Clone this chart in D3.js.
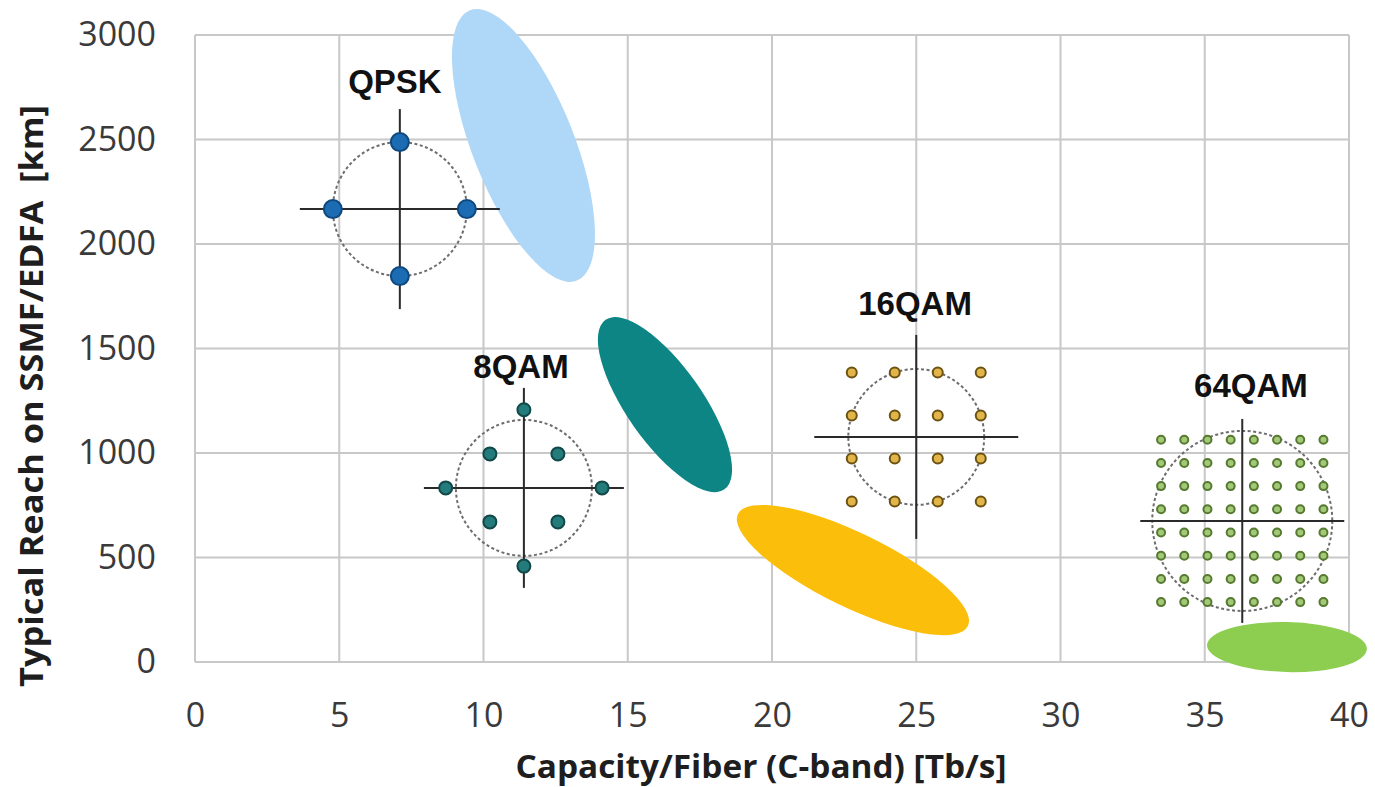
<!DOCTYPE html>
<html><head><meta charset="utf-8">
<script src="https://cdn.jsdelivr.net/npm/d3@7"></script>
<style>body{margin:0;background:#fff}</style>
</head><body><svg id="c" width="1375" height="787"></svg>
<script>
// ---------- data ----------
const xTicks=[0,5,10,15,20,25,30,35,40];
const yTicks=[0,500,1000,1500,2000,2500,3000];
const xTitle="Capacity/Fiber (C-band) [Tb/s]";
const yTitle="Typical Reach on SSMF/EDFA\u00a0\u00a0[km]";

const regionNames=["QPSK","8QAM","16QAM","64QAM"];
// major-axis end points of each shaded region (capacity Tb/s, reach km)
const regionTipX1=[9.53,14.23,18.82,35.08];
const regionTipY1=[3118,1637,708,81];
const regionTipX2=[13.24,18.35,26.79,40.62];
const regionTipY2=[1825,826,172,62];

// constellation diagram centres and labels (capacity, reach)
const constCenterX=[7.1,11.4,25.0,36.3];
const constCenterY=[2167,833,1077,675];
const labelX=[6.93,11.3,24.96,36.6];
const labelY=[2722,1359,1660,1268];

// constellation points (I/Q units)
const qpskI=[0,1,0,-1], qpskQ=[1,0,-1,0];
const qam8I=[0,2.3,0,-2.3,1,1,-1,-1], qam8Q=[2.3,0,-2.3,0,1,-1,1,-1];
const qam16Levels=[-3,-1,1,3];
const qam64Levels=[-7,-5,-3,-1,1,3,5,7];
const refRadius=[1,2,3.16,7.76];

// ---------- style ----------
const M={left:195,right:1349,top:35,bottom:662};
const regionFill=["#afd7f7","#0e8585","#fbbf0b","#8dcd50"];
const regionMinorPx=[51,38,37,25];
const unitPx=[67,34,21.5,11.6];
const crossPx=[100,100,102,102];
const dotR=[9,6.5,5,4];
const dotFill=["#1c6cb4","#237b7b","#e2b54a","#a3c878"];
const dotStroke=["#10497e","#124848","#6b5212","#557a30"];

const svg=d3.select("#c");
const x=d3.scaleLinear().domain([0,40]).range([M.left,M.right]);
const y=d3.scaleLinear().domain([0,3000]).range([M.bottom,M.top]);

// grid
const g=svg.append("g");
g.selectAll("line.v").data(xTicks).join("line")
 .attr("x1",d=>x(d)).attr("x2",d=>x(d)).attr("y1",M.top).attr("y2",M.bottom)
 .attr("stroke","#c8c8c8").attr("stroke-width",2);
g.selectAll("line.h").data(yTicks).join("line")
 .attr("x1",M.left).attr("x2",M.right).attr("y1",d=>y(d)).attr("y2",d=>y(d))
 .attr("stroke","#c8c8c8").attr("stroke-width",2);

// axes labels via d3 axes
const xAxis=svg.append("g").attr("transform",`translate(0,${M.bottom})`)
 .call(d3.axisBottom(x).tickValues(xTicks).tickSize(0).tickPadding(40).tickFormat(d3.format("d")));
const yAxis=svg.append("g").attr("transform",`translate(${M.left},0)`)
 .call(d3.axisLeft(y).tickValues(yTicks).tickSize(0).tickPadding(39).tickFormat(d3.format("d")));
[xAxis,yAxis].forEach(a=>{a.select(".domain").remove();
 a.selectAll("text").attr("font-family","'Open Sans',sans-serif").attr("font-size",34).attr("fill","#3a3a3a");});
xAxis.selectAll("text").attr("dy","0").attr("y",65);

// titles
svg.append("text").attr("x",761).attr("y",778).attr("text-anchor","middle")
 .attr("font-family","'Open Sans',sans-serif").attr("font-weight","bold").attr("font-size",33)
 .attr("textLength",491).attr("lengthAdjust","spacingAndGlyphs").attr("fill","#1e1e1e").text(xTitle);
svg.append("text").attr("transform","translate(43,396) rotate(-90)").attr("text-anchor","middle")
 .attr("font-family","'Open Sans',sans-serif").attr("font-weight","bold").attr("font-size",33)
 .attr("textLength",582).attr("lengthAdjust","spacingAndGlyphs").attr("fill","#1e1e1e").text(yTitle);

// regions (ellipses)
regionNames.forEach((n,i)=>{
  const x1=x(regionTipX1[i]),y1=y(regionTipY1[i]),x2=x(regionTipX2[i]),y2=y(regionTipY2[i]);
  const cx=(x1+x2)/2,cy=(y1+y2)/2,a=Math.hypot(x2-x1,y2-y1)/2,ang=Math.atan2(y2-y1,x2-x1)*180/Math.PI;
  svg.append("ellipse").attr("cx",0).attr("cy",0).attr("rx",a).attr("ry",regionMinorPx[i])
   .attr("transform",`translate(${cx},${cy}) rotate(${ang})`).attr("fill",regionFill[i]);
});

// constellations
const pts=[
  qpskI.map((v,k)=>[v,qpskQ[k]]),
  qam8I.map((v,k)=>[v,qam8Q[k]]),
  d3.cross(qam16Levels,qam16Levels),
  d3.cross(qam64Levels,qam64Levels)
];
regionNames.forEach((n,i)=>{
  const cx=x(constCenterX[i]),cy=y(constCenterY[i]);
  const s=d3.scaleLinear().domain([0,1]).range([0,unitPx[i]]);
  const cg=svg.append("g").attr("transform",`translate(${cx},${cy})`);
  cg.append("circle").attr("r",s(refRadius[i])).attr("fill","none")
   .attr("stroke","#6d6d6d").attr("stroke-width",2).attr("stroke-dasharray","3,2.5");
  cg.append("line").attr("x1",-crossPx[i]).attr("x2",crossPx[i]).attr("stroke","#2a2a2a").attr("stroke-width",2);
  cg.append("line").attr("y1",-crossPx[i]).attr("y2",crossPx[i]).attr("stroke","#2a2a2a").attr("stroke-width",2);
  cg.selectAll("circle.p").data(pts[i]).join("circle").attr("class","p")
   .attr("cx",d=>s(d[0])).attr("cy",d=>-s(d[1])).attr("r",dotR[i])
   .attr("fill",dotFill[i]).attr("stroke",dotStroke[i]).attr("stroke-width",i<2?2:2);
  svg.append("text").attr("x",x(labelX[i])).attr("y",y(labelY[i])).attr("text-anchor","middle")
   .attr("font-family","'Liberation Sans',Arial,sans-serif").attr("font-weight","bold")
   .attr("font-size",33).attr("fill","#111").text(n);
});
</script>
</body></html>
